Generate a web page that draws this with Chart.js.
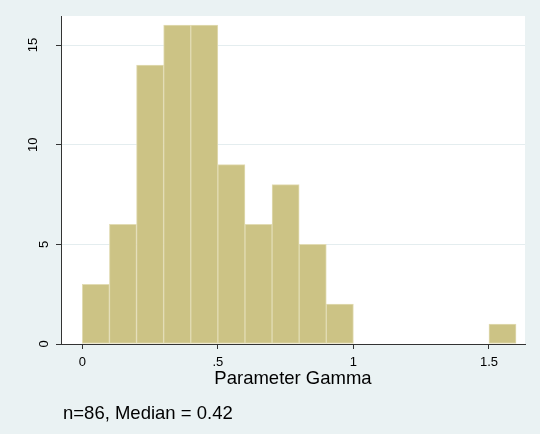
<!DOCTYPE html>
<html>
<head>
<meta charset="utf-8">
<script src="https://cdn.jsdelivr.net/npm/chart.js@4"></script>
<style>
  html, body { margin: 0; padding: 0; background: #fff; }
  canvas { display: block; }
</style>
</head>
<body>
<canvas id="gammaHist" width="540" height="434"></canvas>
<script>
// histogram of parameter gamma, bins of width 0.1
var binWidth = 0.1;
var binStarts = [0, 0.1, 0.2, 0.3, 0.4, 0.5, 0.6, 0.7, 0.8, 0.9, 1.5];
var counts = [3, 6, 14, 16, 16, 9, 6, 8, 5, 2, 1];

var xTicks = [0, 0.5, 1, 1.5];
var xTickLabels = ["0", ".5", "1", "1.5"];
var yTicks = [0, 5, 10, 15];
var yTickLabels = ["0", "5", "10", "15"];

var xTitle = "Parameter Gamma";
var noteText = "n=86, Median = 0.42";

var fontFamily = "'Liberation Sans', Arial, sans-serif";
Chart.defaults.font.family = fontFamily;

var histData = {
  datasets: [{
    data: binStarts.map(function (s, i) {
      return { x: s + binWidth / 2, y: counts[i] };
    }),
    backgroundColor: "#CCC385",
    borderColor: "#E2DCB4",
    borderWidth: 1,
    borderSkipped: false,
    barPercentage: 1,
    categoryPercentage: 1
  }]
};

// light graph region + white plot region
var bgPlugin = {
  id: "bg",
  beforeDraw: function (chart) {
    var ctx = chart.ctx, a = chart.chartArea;
    ctx.save();
    ctx.fillStyle = "#EAF2F3";
    ctx.fillRect(0, 0, chart.width, chart.height);
    ctx.fillStyle = "#ffffff";
    ctx.fillRect(a.left, a.top, a.right - a.left, a.bottom - a.top);
    ctx.restore();
  }
};

// the "n=..., Median = ..." note under the axis title
var notePlugin = {
  id: "note",
  afterDraw: function (chart) {
    var ctx = chart.ctx;
    ctx.save();
    ctx.font = "18.5px " + fontFamily;
    ctx.fillStyle = "#000";
    ctx.textBaseline = "alphabetic";
    ctx.fillText(noteText, chart.chartArea.left + 2, chart.chartArea.bottom + 75);
    ctx.restore();
  }
};

var chartOptions = {
  responsive: false,
  animation: false,
  devicePixelRatio: 1,
  layout: { padding: { left: 0, top: 16, right: 15, bottom: 0 } },
  plugins: { legend: { display: false }, tooltip: { enabled: false } },
  scales: {
    x: {
      type: "linear",
      min: -0.0786,
      max: 1.633,
      bounds: "data",
      offset: false,
      grid: {
        display: true,
        offset: false,
        drawOnChartArea: false,
        drawTicks: true,
        tickLength: 5,
        tickColor: "#333"
      },
      border: { color: "#333", width: 1 },
      ticks: {
        font: { size: 13 },
        color: "#000",
        padding: 6,
        maxRotation: 0,
        autoSkip: false,
        callback: function (v) {
          var i = xTicks.indexOf(v);
          return i >= 0 ? xTickLabels[i] : "";
        }
      },
      afterBuildTicks: function (s) {
        s.ticks = xTicks.map(function (v) { return { value: v }; });
      },
      afterFit: function (s) {
        s.height = 90;
        s.paddingLeft = 0;
        s.paddingRight = 0;
      },
      title: {
        display: true,
        text: xTitle,
        color: "#000",
        font: { size: 18.5 },
        padding: { top: 0, bottom: 44 }
      }
    },
    y: {
      type: "linear",
      min: 0,
      max: 16.46,
      bounds: "data",
      grid: {
        color: function (c) {
          return c.tick && c.tick.value === 0 ? "rgba(0,0,0,0)" : "#E4EDEF";
        },
        lineWidth: 1,
        drawTicks: true,
        tickLength: 5,
        tickColor: "#333"
      },
      border: { color: "#333", width: 1 },
      ticks: {
        font: { size: 13, lineHeight: 1.7 },
        color: "#000",
        padding: 15,
        minRotation: 90,
        maxRotation: 90,
        crossAlign: "center",
        autoSkip: false,
        callback: function (v) {
          var i = yTicks.indexOf(v);
          if (i < 0) return "";
          var t = yTickLabels[i];
          // single digit labels sit closer to the axis in the original
          return t.length < 2 ? ["", t] : t;
        }
      },
      afterBuildTicks: function (s) {
        s.ticks = yTicks.map(function (v) { return { value: v }; });
      },
      afterFit: function (s) {
        s.width = 61;
        s.paddingTop = 0;
        s.paddingBottom = 0;
      }
    }
  }
};

var ctx = document.getElementById("gammaHist");
var gammaHist = new Chart(ctx, {
  type: "bar",
  data: histData,
  options: chartOptions,
  plugins: [bgPlugin, notePlugin]
});
</script>
</body>
</html>
